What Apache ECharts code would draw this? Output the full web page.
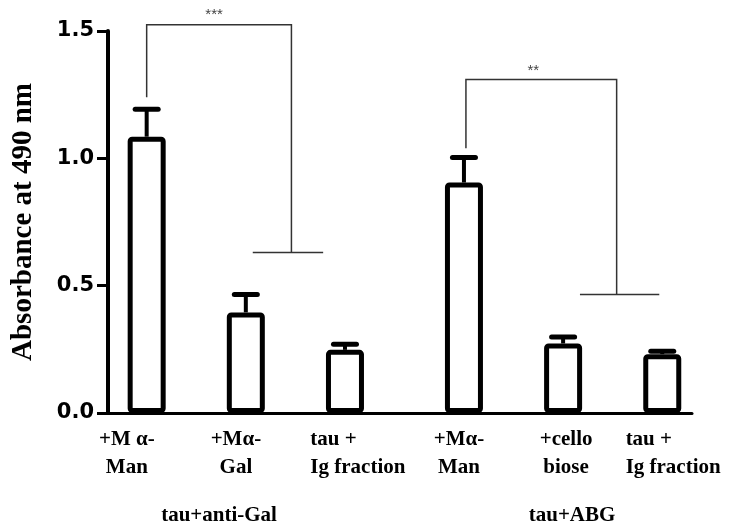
<!DOCTYPE html>
<html>
<head>
<meta charset="utf-8">
<script src="https://cdn.jsdelivr.net/npm/echarts@6/dist/echarts.min.js"></script>
<style>
  html, body { margin: 0; padding: 0; background: #fff; }
  #chart { width: 738px; height: 526px; }
</style>
</head>
<body>
<div id="chart"></div>
<script>
// Conditions (bar labels) and their positions on the x scale
const categories = ['+M α-\nMan', '+Mα-\nGal', 'tau +\nIg fraction', '+Mα-\nMan', '+cello\nbiose', 'tau +\nIg fraction'];
const positions = [1, 2, 3, 4.2, 5.2, 6.2];
// Mean absorbance and SEM (upper error only)
const means = [1.085, 0.395, 0.248, 0.905, 0.273, 0.231];
const sems = [0.108, 0.07, 0.022, 0.098, 0.025, 0.011];
// Group captions under the axis
const groups = ['tau+anti-Gal', 'tau+ABG'];
// Y axis range
const yMin = 0, yMax = 1.5, yStep = 0.5;
// Significance brackets in data units
const bracketLabels = ['***', '**'];
const bracketPaths = [
  [[1.0, 1.24], [1.0, 1.525], [2.46, 1.525], [2.46, 0.63]],
  [[4.22, 1.04], [4.22, 1.31], [5.74, 1.31], [5.74, 0.465]]
];
const bracketFeet = [
  [[2.07, 0.63], [2.78, 0.63]],
  [[5.37, 0.465], [6.17, 0.465]]
];

// Where the caption text sits along the x scale
const labelAnchors = [0.8, 1.9, 3.13, 4.15, 5.23, 6.31];
const flushLeftLabels = new Set([2, 5]);
const groupAnchors = [1.73, 5.29];
const bracketLabelAnchors = [[1.68, 1.565], [4.9, 1.345]];

const serif = '"Liberation Serif", "Times New Roman", serif';
const sans = '"Liberation Sans", Arial, sans-serif';

const chart = echarts.init(document.getElementById('chart'), null, { renderer: 'canvas' });

function indexAt(value, values) {
  for (let i = 0; i < values.length; i++) {
    if (Math.abs(values[i] - value) < 1e-6) return i;
  }
  return -1;
}

const captionStyle = { fontFamily: serif, fontWeight: 'bold', fontSize: 21, color: '#000', lineHeight: 28 };

chart.setOption({
  animation: false,
  backgroundColor: '#fff',
  grid: { left: 108, right: 46, top: 31, bottom: 112 },
  xAxis: [
    {
      type: 'value', min: 0.61, max: 6.5,
      axisLine: { show: true, lineStyle: { color: '#000', width: 3 } },
      axisTick: { show: false },
      splitLine: { show: false },
      axisLabel: {
        customValues: labelAnchors,
        formatter: v => {
          const i = indexAt(v, labelAnchors);
          if (i < 0) return '';
          const tag = flushLeftLabels.has(i) ? 'l' : 'c';
          return categories[i].split('\n').map(s => '{' + tag + '|' + s + '}').join('\n');
        },
        margin: 13,
        rich: {
          c: Object.assign({ align: 'center' }, captionStyle),
          l: Object.assign({ align: 'left' }, captionStyle)
        }
      }
    },
    {
      type: 'value', min: 0.61, max: 6.5, position: 'bottom',
      axisLine: { show: false },
      axisTick: { show: false },
      splitLine: { show: false },
      axisLabel: {
        customValues: groupAnchors,
        formatter: v => { const i = indexAt(v, groupAnchors); return i < 0 ? '' : groups[i]; },
        fontFamily: serif, fontWeight: 'bold', fontSize: 21, color: '#000',
        margin: 92
      }
    }
  ],
  yAxis: {
    type: 'value', min: yMin, max: yMax, interval: yStep,
    name: 'Absorbance at 490 nm',
    nameLocation: 'middle', nameGap: 70, nameRotate: 90,
    nameTextStyle: { fontFamily: serif, fontWeight: 'bold', fontSize: 29, color: '#000' },
    axisLine: { show: true, lineStyle: { color: '#000', width: 4 } },
    axisTick: { show: true, length: 11, lineStyle: { color: '#000', width: 3 } },
    splitLine: { show: false },
    axisLabel: {
      formatter: v => v.toFixed(1),
      fontFamily: '"DejaVu Sans", sans-serif', fontWeight: 'bold', fontSize: 21, color: '#000', margin: 14
    }
  },
  series: [
    {
      type: 'bar',
      xAxisIndex: 0,
      barWidth: 38,
      data: positions.map((p, i) => [p, means[i]]),
      itemStyle: { color: '#fff', borderColor: '#000', borderWidth: 5, borderRadius: 2 },
      z: 2
    },
    {
      type: 'custom',
      xAxisIndex: 0,
      data: positions.map((p, i) => [p, means[i], means[i] + sems[i]]),
      renderItem: (params, api) => {
        const base = api.coord([api.value(0), api.value(1)]);
        const top = api.coord([api.value(0), api.value(2)]);
        return {
          type: 'group',
          children: [
            { type: 'line', shape: { x1: base[0], y1: base[1], x2: top[0], y2: top[1] },
              style: { stroke: '#000', lineWidth: 4 } },
            { type: 'line', shape: { x1: top[0] - 11.5, y1: top[1], x2: top[0] + 11.5, y2: top[1] },
              style: { stroke: '#000', lineWidth: 5, lineCap: 'round' } }
          ]
        };
      },
      z: 3
    },
    {
      type: 'custom',
      xAxisIndex: 0,
      data: bracketPaths.map(p => [p[0][0], p[0][1]]),
      renderItem: (params, api) => {
        const i = params.dataIndex;
        const path = bracketPaths[i].map(pt => api.coord(pt));
        const foot = bracketFeet[i].map(pt => api.coord(pt));
        const lp = api.coord(bracketLabelAnchors[i]);
        return {
          type: 'group',
          children: [
            { type: 'polyline', shape: { points: path },
              style: { stroke: '#333', lineWidth: 1.5, fill: null } },
            { type: 'polyline', shape: { points: foot },
              style: { stroke: '#333', lineWidth: 1.5, fill: null } },
            { type: 'text', x: lp[0], y: lp[1],
              style: { text: bracketLabels[i], fill: '#444', font: '15px ' + sans,
                       align: 'center', verticalAlign: 'middle' } }
          ]
        };
      },
      z: 4
    }
  ]
});
</script>
</body>
</html>
